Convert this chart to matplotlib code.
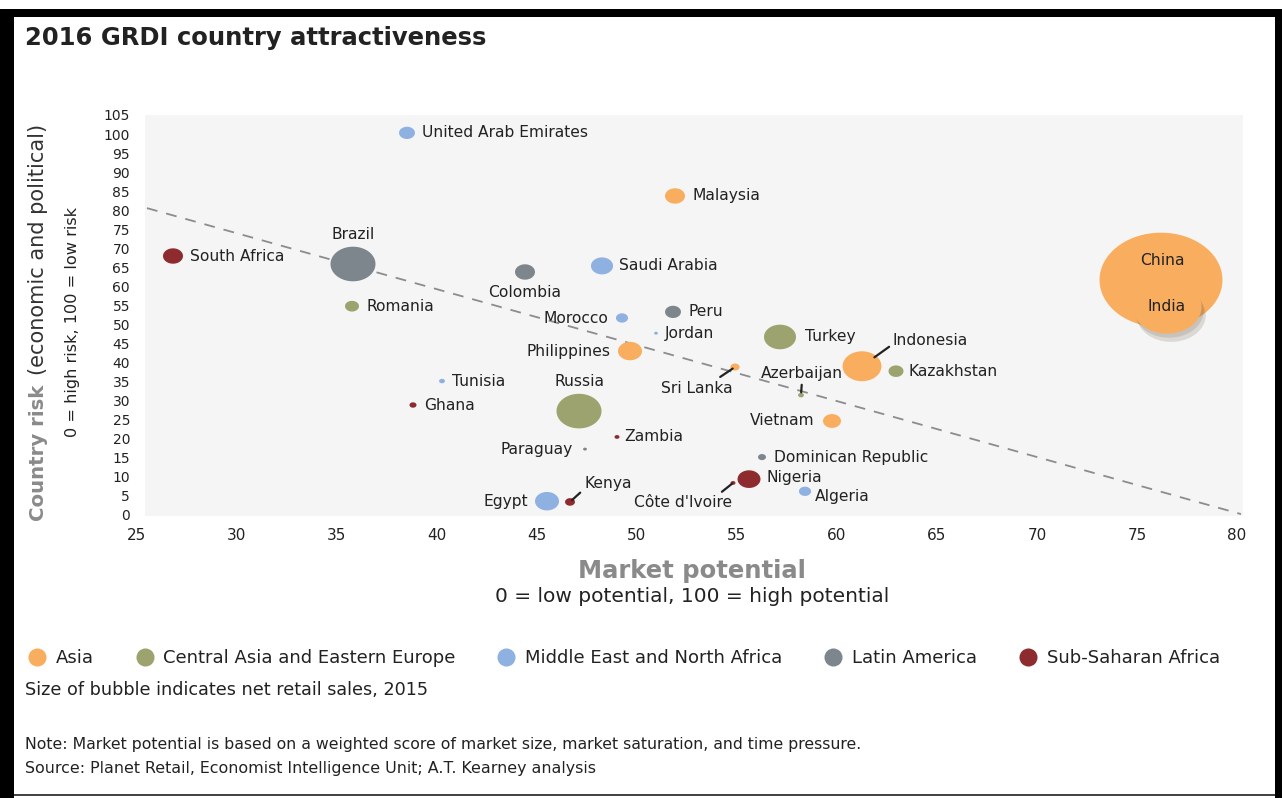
"""
2016 GRDI country attractiveness - bubble chart
"""
import numpy as np
import matplotlib.pyplot as plt
from matplotlib.path import Path
from matplotlib.lines import Line2D
from matplotlib.patches import Rectangle
import matplotlib.patheffects as pe

# ---- data ----
countries = ["China", "Brazil", "Russia", "Indonesia", "Turkey", "Philippines", "Egypt",
             "Nigeria", "Saudi Arabia", "Colombia", "Malaysia", "South Africa", "Vietnam",
             "United Arab Emirates", "Peru", "Kazakhstan", "Romania", "Morocco", "Algeria",
             "Kenya", "Sri Lanka", "Dominican Republic", "Ghana", "Tunisia", "Azerbaijan",
             "Zambia", "Côte d'Ivoire", "Paraguay", "Jordan", "India"]
region = ["Asia", "Latin America", "Central Asia and Eastern Europe", "Asia",
          "Central Asia and Eastern Europe", "Asia", "Middle East and North Africa",
          "Sub-Saharan Africa", "Middle East and North Africa", "Latin America", "Asia",
          "Sub-Saharan Africa", "Asia", "Middle East and North Africa", "Latin America",
          "Central Asia and Eastern Europe", "Central Asia and Eastern Europe",
          "Middle East and North Africa", "Middle East and North Africa", "Sub-Saharan Africa",
          "Asia", "Latin America", "Sub-Saharan Africa", "Middle East and North Africa",
          "Central Asia and Eastern Europe", "Sub-Saharan Africa", "Sub-Saharan Africa",
          "Latin America", "Middle East and North Africa", "Asia"]
market_potential = [76.2, 35.8, 47.1, 61.25, 57.15, 49.65, 45.5,
                    55.6, 48.25, 44.4, 51.9, 26.8, 59.75,
                    38.5, 51.8, 62.95, 35.75, 49.25, 58.4,
                    46.65, 54.9, 56.25, 38.8, 40.25, 58.2,
                    49.0, 54.8, 47.4, 50.95, 76.5]
country_risk = [61.6, 65.8, 27.1, 38.9, 46.6, 42.9, 3.4,
                9.2, 65.3, 63.7, 83.7, 67.9, 24.5,
                100.3, 53.2, 37.6, 54.7, 51.6, 6.0,
                3.2, 38.7, 15.0, 28.7, 35.0, 31.3,
                20.3, 8.2, 17.1, 47.6, 54.5]
net_sales = [3100, 415, 415, 310, 210, 118, 118,
             108, 100, 82, 82, 82, 66,
             52, 52, 46, 40, 30, 30,
             20, 17, 13, 10, 7, 7,
             5, 5, 3, 3, 980]

regions = ["Asia", "Central Asia and Eastern Europe", "Middle East and North Africa",
           "Latin America", "Sub-Saharan Africa"]
region_colors = ["#F9AE5F", "#9DA36F", "#8FB1E1", "#7E868D", "#8E2B2F"]

xticks = list(range(25, 85, 5))
yticks = list(range(0, 110, 5))
trend_x = [25.5, 80.2]
trend_y = [80.5, 0]

# label placement: offset from bubble centre in pixels (right / down), alignment, leader relpos
label_pos = {
    "United Arab Emirates": (15, 0, "left", None),
    "Malaysia": (17, 0, "left", None),
    "South Africa": (17, 0, "left", None),
    "Brazil": (0, -29, "center", None),
    "Romania": (14, 0, "left", None),
    "Colombia": (0, 21, "center", None),
    "Saudi Arabia": (17, 0, "left", None),
    "Morocco": (-14, 1, "right", None),
    "Peru": (15, 0, "left", None),
    "Jordan": (9, 0, "left", None),
    "Turkey": (25, 0, "left", None),
    "Philippines": (-19, 0, "right", None),
    "Indonesia": (31, -26, "left", (0, 0.25)),
    "Kazakhstan": (13, 0, "left", None),
    "Sri Lanka": (-38, 21, "center", (0.75, 1)),
    "Azerbaijan": (1, -22, "center", (0.5, 0)),
    "Tunisia": (10, 0, "left", None),
    "Ghana": (11, 0, "left", None),
    "Russia": (0, -30, "center", None),
    "Vietnam": (-17, 0, "right", None),
    "Zambia": (7, 0, "left", None),
    "Paraguay": (-12, 0, "right", None),
    "Dominican Republic": (12, 0, "left", None),
    "Nigeria": (17, -2, "left", None),
    "Côte d'Ivoire": (-50, 20, "center", (0.85, 1)),
    "Algeria": (10, 5, "left", None),
    "Egypt": (-19, 0, "right", None),
    "Kenya": (14, -18, "left", (0, 0.15)),
    "China": (1, -19, "center", None),
    "India": (0, 0, "center", None),
}
leader_shrink = {"Indonesia": 11, "Sri Lanka": 2, "Azerbaijan": 2, "Côte d'Ivoire": 1, "Kenya": 2}

W, H = 1282, 798
def fx(px):
    return px / W
def fy(py):
    return 1 - py / H

fig = plt.figure(figsize=(W / 100, H / 100), dpi=100)
fig.patch.set_facecolor("white")

ax = fig.add_axes([fx(137), fy(516), fx(1243) - fx(137), fy(115) - fy(516)])
ax.set_xlim(25, 80.3)
ax.set_ylim(-0.5, 105)
ax.set_facecolor("white")
ax.axvspan(25.4, 80.3, color="#F5F5F5", zorder=0, lw=0)
for s in ax.spines.values():
    s.set_visible(False)
ax.set_xticks(xticks)
ax.set_yticks(yticks)
ax.tick_params(axis="both", length=0, colors="#222222")
ax.tick_params(axis="x", labelsize=11, pad=9)
ax.tick_params(axis="y", labelsize=10, pad=5)

ax.plot(trend_x, trend_y, ls=(0, (6, 5)), color="#8C8C8C", lw=1.3, zorder=1)

# stretched bubble shape (chart is wider than tall)
t = np.linspace(0, 2 * np.pi, 73)
oval = Path(np.column_stack([1.3 * np.cos(t), np.sin(t)]), closed=True)

cmap = dict(zip(regions, region_colors))
mp = np.array(market_potential)
cr = np.array(country_risk)
sales = np.array(net_sales, dtype=float)
cols = np.array([cmap[r] for r in region])
size = sales * 2.53

main = np.array([c != "India" for c in countries])
ax.scatter(mp[main], cr[main], s=size[main], c=list(cols[main]), marker=oval,
           linewidths=0, zorder=2)
ind = ~main
ax.scatter(mp[ind], cr[ind], s=size[ind], c=list(cols[ind]), marker=oval, linewidths=0,
           zorder=3,
           path_effects=[pe.SimplePatchShadow(offset=(3, -6), shadow_rgbFace="#6b5a48", alpha=0.18),
                         pe.SimplePatchShadow(offset=(1.5, -3), shadow_rgbFace="#6b5a48", alpha=0.18),
                         pe.Normal()])

for name, x, y in zip(countries, market_potential, country_risk):
    dx, dy, ha, relpos = label_pos[name]
    kw = {}
    if relpos is not None:
        kw["arrowprops"] = dict(arrowstyle="-", color="#222222", lw=1.6, relpos=relpos,
                                shrinkA=1, shrinkB=leader_shrink[name])
    ax.annotate(name, (x, y), xytext=(dx * 0.72, -dy * 0.72), textcoords="offset points",
                ha=ha, va="center", fontsize=11.2, color="#222222", zorder=5, **kw)

# ---- axis titles ----
fig.text(fx(692), fy(571), "Market potential", ha="center", va="center", fontsize=17.5,
         weight="bold", color="#8A8A8A")
fig.text(fx(692), fy(596), "0 = low potential, 100 = high potential", ha="center",
         va="center", fontsize=14.5, color="#222222")

t1 = fig.text(fx(38), fy(521), "Country risk", rotation=90, rotation_mode="anchor",
              ha="left", va="center", fontsize=14.2, weight="bold", color="#8A8A8A")
renderer = fig.canvas.get_renderer()
ext = t1.get_window_extent(renderer)
fig.text(fx(38), (ext.y1 + 10) / H, "(economic and political)", rotation=90,
         rotation_mode="anchor", ha="left", va="center", fontsize=15, color="#333333")
fig.text(fx(72), fy(322), "0 = high risk, 100 = low risk", rotation=90,
         rotation_mode="anchor", ha="center", va="center", fontsize=11.6, color="#222222")

# ---- title ----
fig.text(fx(25), fy(38), "2016 GRDI country attractiveness", ha="left", va="center",
         fontsize=17.5, weight="bold", color="#222222")

# ---- legend ----
handles = [Line2D([], [], ls="", marker="o", markersize=13, markerfacecolor=c,
                  markeredgecolor="none") for c in region_colors]
fig.legend(handles, regions, loc="center left", bbox_to_anchor=(fx(28), fy(658)), ncol=5,
           frameon=False, fontsize=13, borderpad=0, borderaxespad=0, handlelength=1.0,
           handletextpad=0.55, columnspacing=2.3, labelcolor="#222222")

fig.text(fx(25), fy(690), "Size of bubble indicates net retail sales, 2015", ha="left",
         va="center", fontsize=12.7, color="#222222")
fig.text(fx(25), fy(745), "Note: Market potential is based on a weighted score of market size, "
         "market saturation, and time pressure.", ha="left", va="center", fontsize=11.3,
         color="#222222")
fig.text(fx(25), fy(769), "Source: Planet Retail, Economist Intelligence Unit; A.T. Kearney analysis",
         ha="left", va="center", fontsize=11.4, color="#222222")

# ---- black frame ----
for x0, y0, w, h, c in [(0, 9, 14, H - 9, "black"), (0, 9, W, 8, "black"),
                        (1275, 9, 7, H - 9, "black"), (14, 794, 1261, 2, "#444444")]:
    fig.add_artist(Rectangle((fx(x0), fy(y0 + h)), w / W, h / H, transform=fig.transFigure,
                             color=c, lw=0))

fig.savefig("out.png", dpi=100)
